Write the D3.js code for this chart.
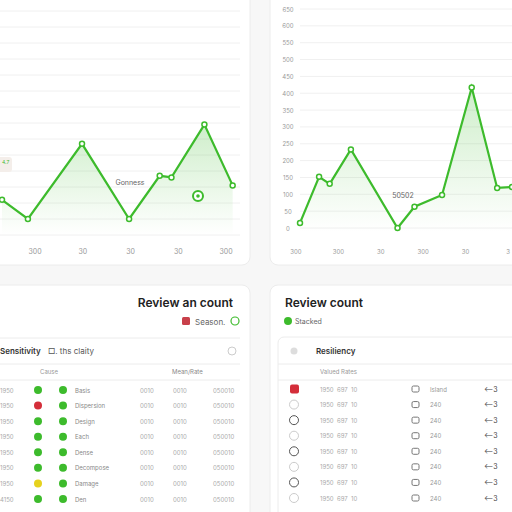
<!DOCTYPE html><html><head><meta charset="utf-8">
<script src="https://cdn.jsdelivr.net/npm/d3@7"></script>
<style>body{margin:0;background:#f7f7f7;font-family:Inter,"Noto Sans",sans-serif}</style></head><body>
<script>
const leftX=[1,12,35,55,68,73,87,99];
const leftY=[22,10,57,10,37,36,69,31];
const leftTicks=["300","30","30","30","300"];
const rightX=[0,9,14,24,46,54,67,81,93,100];
const rightY=[15,152,131,233,0,63,98,417,119,122];
const rightYTicks=[0,50,100,150,200,250,300,350,400,450,500,550,600,650];
const rightXTicks=["300","300","30","300","30","3"];
const rowYears=["1950","1950","1950","1950","1950","1950","1950","4150"];
const rowStatus=["g","r","g","g","g","g","y","g"];
const rowNames=["Basis","Dispersion","Design","Each","Dense","Decompose","Damage","Den"];
const rowVals=["0010","0010","050010"];
const rightRows=["1950  697  10","1950  697  10","1950  697  10","1950  697  10","1950  697  10","1950  697  10","1950  697  10","1950  697  10"];
const rightMid=["Island","240","240","240","240","240","240","240"];

const svg=d3.select("body").append("svg").attr("width",512).attr("height",512);
const G="#3dbb2c";
function card(x,y,w,h){svg.append("rect").attr("x",x).attr("y",y).attr("width",w).attr("height",h).attr("rx",8).attr("fill","#fff").attr("stroke","#ececec");}
card(-10,-10,260,275);card(270,-10,260,275);card(-10,285,260,240);card(270,285,260,240);
const defs=svg.append("defs");
const lg=defs.append("linearGradient").attr("id","gr").attr("x1",0).attr("x2",0).attr("y1",0).attr("y2",1);
lg.append("stop").attr("offset",0).attr("stop-color",G).attr("stop-opacity",0.25);
lg.append("stop").attr("offset",1).attr("stop-color",G).attr("stop-opacity",0);

// left chart
{const x=d3.scaleLinear().domain([0,100]).range([-0.35,235]);
const y=d3.scaleLinear().domain([0,140]).range([235,11]);
const g=svg.append("g");
d3.range(0,150,10).forEach(v=>g.append("line").attr("x1",0).attr("x2",240).attr("y1",y(v)).attr("y2",y(v)).attr("stroke","#f0f0f0"));
const d=leftX.map((v,i)=>[v,leftY[i]]);
g.append("path").datum(d).attr("fill","url(#gr)").attr("d",d3.area().x(p=>x(p[0])).y0(235).y1(p=>y(p[1])));
g.append("path").datum(d).attr("fill","none").attr("stroke",G).attr("stroke-width",2.2).attr("d",d3.line().x(p=>x(p[0])).y(p=>y(p[1])));
g.selectAll("circle").data(d).join("circle").attr("cx",p=>x(p[0])).attr("cy",p=>y(p[1])).attr("r",2.5).attr("fill","#fff").attr("stroke",G).attr("stroke-width",1.5);
const tx=d3.scalePoint().domain(leftTicks.map((t,i)=>i)).range([35,226]);
leftTicks.forEach((t,i)=>g.append("text").attr("x",tx(i)).attr("y",254).attr("text-anchor","middle").attr("font-size",7).attr("fill","#999").text(t));
g.append("text").attr("x",130).attr("y",185).attr("font-size",7).attr("fill","#666").attr("text-anchor","middle").text("Gonness");
g.append("circle").attr("cx",198).attr("cy",196).attr("r",5).attr("fill","#fff").attr("stroke",G).attr("stroke-width",2);
g.append("circle").attr("cx",198).attr("cy",196).attr("r",1.8).attr("fill",G);
g.append("rect").attr("x",-4).attr("y",157).attr("width",16).attr("height",15).attr("rx",3).attr("fill","#f4eeea");
g.append("text").attr("x",2).attr("y",164).attr("font-size",5).attr("fill",G).text("4.7");}

// right chart
{const x=d3.scaleLinear().domain([0,100]).range([300,512]);
const y=d3.scaleLinear().domain([0,650]).range([228,9]);
const g=svg.append("g");
rightYTicks.forEach(v=>{g.append("line").attr("x1",300).attr("x2",512).attr("y1",y(v)).attr("y2",y(v)).attr("stroke","#f0f0f0");
g.append("text").attr("x",288).attr("y",y(v)+2.5).attr("text-anchor","middle").attr("font-size",6).attr("fill","#999").text(v);});
const d=rightX.map((v,i)=>[v,rightY[i]]);
g.append("path").datum(d).attr("fill","url(#gr)").attr("d",d3.area().x(p=>x(p[0])).y0(232).y1(p=>y(p[1])));
g.append("path").datum(d).attr("fill","none").attr("stroke",G).attr("stroke-width",2.2).attr("d",d3.line().x(p=>x(p[0])).y(p=>y(p[1])));
g.selectAll("circle").data(d).join("circle").attr("cx",p=>x(p[0])).attr("cy",p=>y(p[1])).attr("r",2.5).attr("fill","#fff").attr("stroke",G).attr("stroke-width",1.5);
const tx=d3.scalePoint().domain(rightXTicks.map((t,i)=>i)).range([296,508]);
rightXTicks.forEach((t,i)=>g.append("text").attr("x",tx(i)).attr("y",254).attr("text-anchor","middle").attr("font-size",6).attr("fill","#999").text(t));
g.append("text").attr("x",403).attr("y",198).attr("font-size",7).attr("fill","#666").attr("text-anchor","middle").text("50502");}

// bottom-left table
{const g=svg.append("g");
g.append("text").attr("x",233).attr("y",307).attr("text-anchor","end").attr("font-size",12).attr("font-weight",600).attr("fill","#222").text("Review an count");
g.append("rect").attr("x",182).attr("y",317).attr("width",8).attr("height",8).attr("rx",1.5).attr("fill","#c8404a");
g.append("text").attr("x",195).attr("y",325).attr("font-size",8).attr("fill","#666").text("Season.");
g.append("circle").attr("cx",235).attr("cy",321).attr("r",4).attr("fill","none").attr("stroke",G).attr("stroke-width",1.2);
[338,364,380].forEach(v=>g.append("line").attr("x1",-10).attr("x2",240).attr("y1",v).attr("y2",v).attr("stroke","#ececec"));
g.append("text").attr("x",0).attr("y",354).attr("font-size",8).attr("font-weight",600).attr("fill","#333").text("Sensitivity");
g.append("text").attr("x",48).attr("y",354).attr("font-size",8).attr("fill","#555").text("□. ths claity");
g.append("circle").attr("cx",232).attr("cy",351).attr("r",4).attr("fill","none").attr("stroke","#ccc");
g.append("text").attr("x",40).attr("y",374).attr("font-size",6).attr("fill","#999").text("Cause");
g.append("text").attr("x",172).attr("y",374).attr("font-size",6).attr("fill","#888").text("Mean/Rate");
const ry=d3.scaleLinear().domain([0,7]).range([390,499]);
const cc={g:G,r:"#d42e3a",y:"#e6d21e"};
rowYears.forEach((t,i)=>{const yy=ry(i);
g.append("text").attr("x",0).attr("y",yy+2.5).attr("font-size",6).attr("fill","#aaa").text(t);
g.append("circle").attr("cx",38).attr("cy",yy).attr("r",4).attr("fill",cc[rowStatus[i]]);
g.append("circle").attr("cx",63).attr("cy",yy).attr("r",4).attr("fill",G);
g.append("text").attr("x",75).attr("y",yy+2.5).attr("font-size",6).attr("fill","#888").text(rowNames[i]);
[140,173,213].forEach((px,j)=>g.append("text").attr("x",px).attr("y",yy+2.5).attr("font-size",6).attr("fill","#aaa").text(rowVals[j]));});}

// bottom-right table
{const g=svg.append("g");
g.append("text").attr("x",285).attr("y",307).attr("font-size",12).attr("font-weight",600).attr("fill","#222").text("Review count");
g.append("circle").attr("cx",288).attr("cy",321).attr("r",4).attr("fill",G);
g.append("text").attr("x",295).attr("y",324).attr("font-size",7).attr("fill","#666").text("Stacked");
g.append("rect").attr("x",278).attr("y",337).attr("width",250).attr("height",200).attr("rx",6).attr("fill","#fff").attr("stroke","#ececec");
[364,380].forEach(v=>g.append("line").attr("x1",278).attr("x2",512).attr("y1",v).attr("y2",v).attr("stroke","#ececec"));
g.append("circle").attr("cx",294).attr("cy",351).attr("r",3.5).attr("fill","#ddd");
g.append("text").attr("x",316).attr("y",354).attr("font-size",8).attr("font-weight",600).attr("fill","#333").text("Resiliency");
g.append("text").attr("x",320).attr("y",374).attr("font-size",6).attr("fill","#999").text("Valued Rates");
const ry=d3.scaleLinear().domain([0,7]).range([389,498]);
rightRows.forEach((t,i)=>{const yy=ry(i);
if(i===0)g.append("rect").attr("x",290).attr("y",yy-4.5).attr("width",9).attr("height",9).attr("rx",2).attr("fill","#d42e3a");
else g.append("circle").attr("cx",294).attr("cy",yy).attr("r",4.5).attr("fill","none").attr("stroke",i%2?"#ccc":"#555");
g.append("text").attr("x",320).attr("y",yy+2.5).attr("font-size",6).attr("fill","#aaa").attr("xml:space","preserve").text(t);
g.append("rect").attr("x",412).attr("y",yy-3).attr("width",7).attr("height",6).attr("rx",1.5).attr("fill","none").attr("stroke","#777");
g.append("text").attr("x",430).attr("y",yy+2.5).attr("font-size",6).attr("fill","#999").text(rightMid[i]);
g.append("text").attr("x",484).attr("y",yy+2.5).attr("font-size",7).attr("fill","#444").text("⟵3");});}
</script></body></html>
